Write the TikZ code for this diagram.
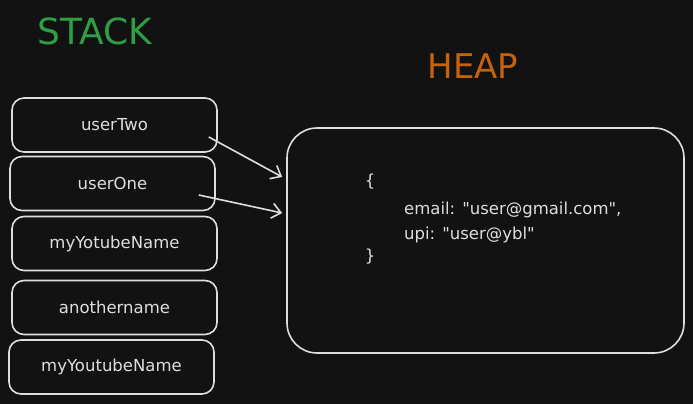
\documentclass[tikz,border=0pt]{standalone}
\usepackage{fontspec}
\setmainfont{DejaVu Sans}[Ligatures=TeXOff]
\usetikzlibrary{positioning, arrows.meta}
\definecolor{bg}{HTML}{121212}
\definecolor{ink}{HTML}{DEDEDE}
\definecolor{stackgreen}{HTML}{2F9E44}
\definecolor{heaporange}{HTML}{C4630C}

\begin{document}
\begin{tikzpicture}[
    x=1pt, y=-1pt,
    every node/.style={text=ink,font=\fontsize{16.5}{19}\selectfont},
    var/.style={draw=ink,line width=1.6pt,rounded corners=12pt,
        minimum width=205pt,minimum height=54pt,inner sep=0pt},
    ref/.style={draw=ink,line width=1.6pt,-{Straight Barb[length=9pt,width=15pt]}},
    title/.style={font=\fontsize{#1}{38}\selectfont}
]
\useasboundingbox[fill=bg] (0,0) rectangle (693,404);

% =============================
% stack
% =============================
\node[title=36,text=stackgreen] (stack) at (95,31) {STACK};

\node[var] (two) at (114.5,125) {userTwo};
\node[var] (one) at (112.5,183.5) {userOne};
\node[var] (yotube) at (114.5,243.5) {myYotubeName};
\node[var] (another) at (114.5,307.5) {anothername};
\node[var] (youtube) at (111.5,367) {myYoutubeName};

% =============================
% heap
% =============================
\node[title=34,text=heaporange] (heaplabel) at (473,66) {HEAP};

\node[draw=ink,line width=1.6pt,rounded corners=30pt,
    minimum width=397pt,minimum height=225pt] (heap) at (485.5,240.5) {};

\node (open) at (370,182) {\{};
\node[anchor=west,inner sep=0pt] (email) at (404,210) {email: "user@gmail.com",};
\node[anchor=west,inner sep=0pt] (upi) at (404,235) {upi: "user@ybl"};
\node (close) at (370,257) {\}};

% references
\draw[ref] ([xshift=-9pt,yshift=-12pt]two.east) -- ([xshift=-4pt,yshift=63.5pt]heap.west);
\draw[ref] ([xshift=-17pt,yshift=-11.5pt]one.east) -- ([xshift=-4pt,yshift=27.5pt]heap.west);
\end{tikzpicture}
\end{document}
